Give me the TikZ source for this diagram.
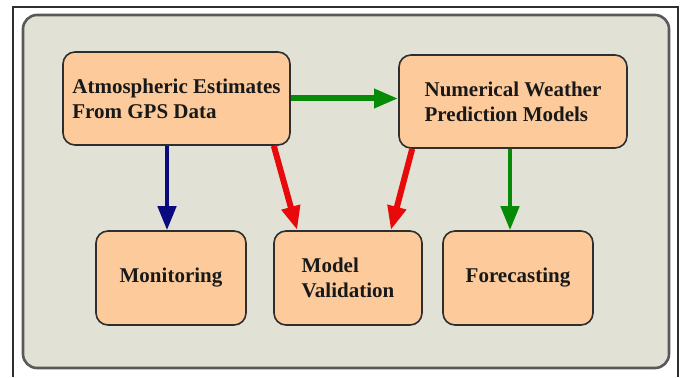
\documentclass[tikz,border=0pt]{standalone}
\usepackage{fontspec}
\setmainfont{Liberation Serif}[BoldFont={Liberation Serif Bold}]
\newfontfamily\boxfont{Liberation Serif}[BoldFont={Liberation Serif Bold}]
\usetikzlibrary{arrows.meta}
\definecolor{peach}{HTML}{FDCB9B}
\definecolor{panelgray}{HTML}{E1E1D6}
\definecolor{boxline}{HTML}{2E2E2E}
\definecolor{arrgreen}{HTML}{078A07}
\definecolor{arrblue}{HTML}{0A0A80}
\definecolor{arrred}{HTML}{E80A0A}
\tikzset{
  box/.style={draw=boxline, line width=1.6pt, fill=peach, rounded corners=12pt,
    inner sep=0pt, align=left, text=black!90,
    font={\boxfont\fontsize{21}{25}\selectfont\bfseries}},
  arr/.style={line width=#1, -{Triangle[length=24pt,width=18pt]}},
}
\begin{document}
\begin{tikzpicture}[x=1pt,y=-1pt]
\useasboundingbox (0,0) rectangle (687,377);
\fill[white] (0,0) rectangle (687,377);
% outer frame (open at bottom)
\draw[line width=1.2pt, color=boxline] (13,377) -- (13,7) -- (678,7) -- (678,377);
% panel
\draw[draw=black!65, line width=2.6pt, fill=panelgray, rounded corners=14pt] (23,15) rectangle (669,368);
% nodes
\node[box, minimum width=227pt, minimum height=93pt] (atm) at (176.5,98.5) {Atmospheric Estimates\\From GPS Data};
\node[box, minimum width=228pt, minimum height=93pt] (nwp) at (513,101.5) {Numerical Weather\\Prediction Models};
\node[box, minimum width=150pt, minimum height=94pt] (mon) at (171,278) {Monitoring};
\node[box, minimum width=148pt, minimum height=94pt] (mv) at (348,278) {Model\\Validation};
\node[box, minimum width=150pt, minimum height=94pt] (fc) at (518,278) {Forecasting};
% connectors
\draw[arr=6pt, arrgreen] (atm.east) -- (atm.east -| nwp.west);
\draw[arr=4.5pt, arrblue] ([xshift=-9.5pt]atm.south) -- ([xshift=-4pt]mon.north);
\draw[arr=6pt, arrred] ([xshift=-17pt]atm.south east) -- ([xshift=24pt]mv.north west);
\draw[arr=6pt, arrred] ([xshift=14pt]nwp.south west) -- ([xshift=-32pt]mv.north east);
\draw[arr=4.5pt, arrgreen] ([xshift=-3pt]nwp.south) -- ([xshift=-8pt]fc.north);
\end{tikzpicture}
\end{document}
